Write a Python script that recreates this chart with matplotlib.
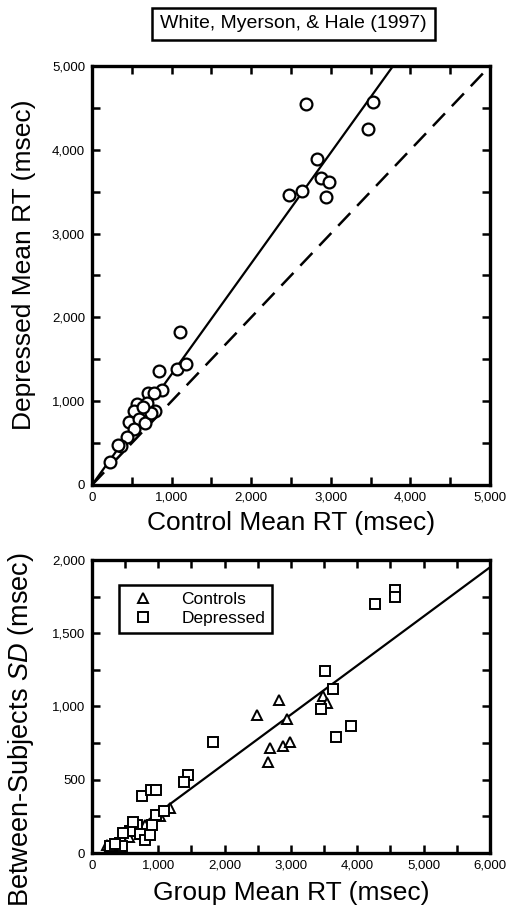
import matplotlib
matplotlib.use('Agg')
import matplotlib.pyplot as plt
from matplotlib.ticker import MultipleLocator, FuncFormatter

plt.rcParams['font.family'] = ['Liberation Sans', 'DejaVu Sans']
plt.rcParams['mathtext.fontset'] = 'custom'
plt.rcParams['mathtext.it'] = 'Liberation Sans:italic'
plt.rcParams['mathtext.rm'] = 'Liberation Sans'

# top panel: control vs depressed mean RT (msec)
ctrl_rt = [2684, 3534, 3467, 2827, 2881, 2977, 2479, 2642, 2935,
           1106, 842, 1064, 1181, 879, 708, 779, 570, 687, 532, 796,
           469, 595, 666, 532, 436, 364, 226, 740, 640, 330]
depr_rt = [4551, 4566, 4252, 3886, 3660, 3616, 3465, 3508, 3441,
           1826, 1364, 1384, 1444, 1134, 1098, 1102, 967, 975, 879, 887,
           756, 788, 736, 672, 577, 469, 270, 860, 930, 480]
fit_slope = 1.322

# bottom panel: group mean RT vs between-subjects SD
ctl_x = [2824, 2487, 2945, 2683, 2648, 2884, 2985, 3477, 3548,
         1176, 1025, 799, 673, 472, 422, 221, 560, 620, 740, 300, 380]
ctl_y = [1045, 939, 916, 716, 620, 727, 761, 1073, 1023,
         307, 250, 193, 159, 125, 80, 57, 110, 170, 130, 40, 70]
dep_x = [4568, 4568, 4266, 3513, 3638, 3457, 3900, 3673, 1824, 1452,
         1387, 754, 884, 965, 965, 1085, 900, 673, 573, 724, 799, 874,
         472, 422, 271, 447, 620, 350]
dep_y = [1795, 1745, 1700, 1239, 1118, 984, 870, 795, 757, 532,
         482, 386, 427, 432, 257, 284, 193, 193, 148, 132, 91, 125,
         136, 68, 45, 45, 210, 60]
sd_slope = 0.335
sd_icept = -60

comma = FuncFormatter(lambda v, p: '{:,.0f}'.format(v))


def style_axes(ax):
    for s in ax.spines.values():
        s.set_linewidth(2.4)
    ax.tick_params(which='both', direction='in', top=True, right=True,
                   width=1.8, length=6, labelsize=9.5, pad=5)
    ax.xaxis.set_major_formatter(comma)
    ax.yaxis.set_major_formatter(comma)


fig = plt.figure(figsize=(5.13, 9.18), dpi=100)

fig.text(0.572, 0.974, 'White, Myerson, & Hale (1997)', ha='center', va='center',
         fontsize=14,
         bbox=dict(boxstyle='square,pad=0.4', fc='white', ec='black', lw=1.8))

ax1 = fig.add_axes([0.1793, 0.4717, 0.7758, 0.4564])
ax1.plot([0, 5000], [0, 5000 * fit_slope], color='black', lw=1.6)
ax1.plot([0, 5000], [0, 5000], color='black', lw=1.8, linestyle=(0, (7, 4)))
ax1.plot(ctrl_rt, depr_rt, linestyle='', marker='o', ms=8.5, mfc='white',
         mec='black', mew=1.6)
ax1.set_xlim(0, 5000)
ax1.set_ylim(0, 5000)
ax1.xaxis.set_major_locator(MultipleLocator(1000))
ax1.xaxis.set_minor_locator(MultipleLocator(500))
ax1.yaxis.set_major_locator(MultipleLocator(1000))
ax1.yaxis.set_minor_locator(MultipleLocator(500))
style_axes(ax1)
ax1.set_xlabel('Control Mean RT (msec)', fontsize=19)
ax1.set_ylabel('Depressed Mean RT (msec)', fontsize=19)
ax1.xaxis.set_label_coords(0.5, -0.062)
ax1.yaxis.set_label_coords(-0.14, 0.525)

ax2 = fig.add_axes([0.1793, 0.0708, 0.7758, 0.3192])
ax2.plot([0, 6000], [sd_icept, sd_icept + 6000 * sd_slope], color='black', lw=1.6)
ax2.plot(ctl_x, ctl_y, linestyle='', marker='^', ms=7, mfc='white',
         mec='black', mew=1.4, label='Controls')
ax2.plot(dep_x, dep_y, linestyle='', marker='s', ms=6.5, mfc='white',
         mec='black', mew=1.4, label='Depressed')
ax2.set_xlim(0, 6000)
ax2.set_ylim(0, 2000)
ax2.xaxis.set_major_locator(MultipleLocator(1000))
ax2.xaxis.set_minor_locator(MultipleLocator(500))
ax2.yaxis.set_major_locator(MultipleLocator(500))
ax2.yaxis.set_minor_locator(MultipleLocator(250))
style_axes(ax2)
ax2.set_xlabel('Group Mean RT (msec)', fontsize=19)
ax2.set_ylabel(r'Between-Subjects $\mathit{SD}$ (msec)', fontsize=19.5)
ax2.xaxis.set_label_coords(0.5, -0.097)
ax2.yaxis.set_label_coords(-0.14, 0.42)
leg = ax2.legend(loc='upper left', bbox_to_anchor=(0.068, 0.915), fontsize=12.5,
                 fancybox=False, edgecolor='black', framealpha=1, borderaxespad=0,
                 handletextpad=1.2, borderpad=0.4, labelspacing=0.2)
leg.get_frame().set_linewidth(1.8)

fig.savefig('out.png', dpi=100)
